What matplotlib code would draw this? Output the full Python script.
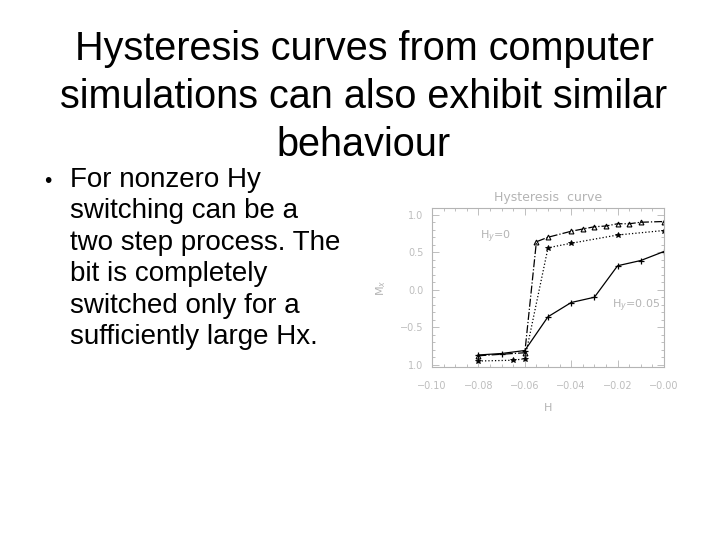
import matplotlib
matplotlib.use("Agg")
import matplotlib.pyplot as plt
from matplotlib.ticker import MultipleLocator

# title and bullet text of the slide
title_lines = ["Hysteresis curves from computer",
               "simulations can also exhibit similar",
               "behaviour"]
bullet_lines = ["For nonzero Hy",
                "switching can be a",
                "two step process. The",
                "bit is completely",
                "switched only for a",
                "sufficiently large Hx."]

# curves
h_dashdot = [-0.08, -0.06, -0.055, -0.05, -0.04, -0.035, -0.03, -0.025,
             -0.02, -0.015, -0.01, 0.0]
m_dashdot = [-0.88, -0.84, 0.64, 0.70, 0.78, 0.81, 0.84, 0.85,
             0.88, 0.88, 0.90, 0.91]

h_dotted = [-0.08, -0.065, -0.06, -0.05, -0.04, -0.02, 0.0]
m_dotted = [-0.95, -0.94, -0.92, 0.56, 0.62, 0.73, 0.79]

h_solid = [-0.08, -0.07, -0.06, -0.05, -0.04, -0.03, -0.02, -0.01, 0.0]
m_solid = [-0.87, -0.85, -0.81, -0.36, -0.17, -0.10, 0.32, 0.39, 0.51]

x_ticks = [-0.10, -0.08, -0.06, -0.04, -0.02, 0.0]
x_ticklabels = ["\u22120.10", "\u22120.08", "\u22120.06", "\u22120.04",
                "\u22120.02", "\u22120.00"]
y_ticks = [-1.0, -0.5, 0.0, 0.5, 1.0]
y_ticklabels = ["1.0", "\u22120.5", "0.0", "0.5", "1.0"]

W, H = 720, 540
fig = plt.figure(figsize=(7.2, 5.4), dpi=100)


def px(x, y):
    return x / W, 1 - y / H


title_font = ["Liberation Sans Narrow", "Liberation Sans", "DejaVu Sans"]
for i, line in enumerate(title_lines):
    fig.text(*px(364, 60 + i * 48), line, ha="center", va="baseline",
             fontsize=28.5, family=title_font, color="black")

body_font = ["Liberation Sans", "DejaVu Sans"]
fig.text(*px(44, 187), "\u2022", ha="left", va="baseline", fontsize=15,
         family=body_font)
for i, line in enumerate(bullet_lines):
    fig.text(*px(70, 187 + i * 31.4), line, ha="left", va="baseline",
             fontsize=20, family=body_font, color="black")

# embedded IDL-style plot
gray = "#b4b4b4"
ax = fig.add_axes([432 / W, 1 - 367 / H, (664 - 432) / W, (367 - 208) / H])
ax.plot(h_dashdot, m_dashdot, "-.", color="black", lw=0.9,
        marker="^", ms=3.5, mfc="none", mew=0.8)
ax.plot(h_dotted, m_dotted, ":", color="black", lw=0.9,
        marker="*", ms=4, mew=0.6)
ax.plot(h_solid, m_solid, "-", color="black", lw=0.9,
        marker="+", ms=5, mew=0.9)

ax.set_xlim(-0.1, 0.0)
ax.set_ylim(-1.03, 1.09)
ax.set_xticks(x_ticks)
ax.set_xticklabels(x_ticklabels)
ax.set_yticks(y_ticks)
ax.set_yticklabels(y_ticklabels)
ax.xaxis.set_minor_locator(MultipleLocator(0.005))
ax.yaxis.set_minor_locator(MultipleLocator(0.1))
ax.tick_params(which="both", direction="in", top=True, right=True,
               color=gray, labelcolor="#bdbdbd", labelsize=7, width=0.6)
ax.tick_params(which="major", length=5, pad=6)
ax.tick_params(axis="x", which="major", pad=10)
ax.tick_params(which="minor", length=2.5)
for sp in ax.spines.values():
    sp.set_color(gray)
    sp.set_linewidth(0.8)

fig.text(*px(548, 197), "Hysteresis  curve", ha="center", va="center",
         fontsize=9, color=gray)
fig.text(*px(480, 237), "H$_y$=0", ha="left", va="center",
         fontsize=8, color=gray)
fig.text(*px(612, 306), "H$_y$=0.05", ha="left", va="center",
         fontsize=8, color=gray)
fig.text(*px(381, 288), "M$_x$", ha="center", va="center", rotation=90,
         fontsize=8, color=gray)
fig.text(*px(548, 408), "H", ha="center", va="center",
         fontsize=8, color=gray)

fig.savefig("out.png", dpi=100)
